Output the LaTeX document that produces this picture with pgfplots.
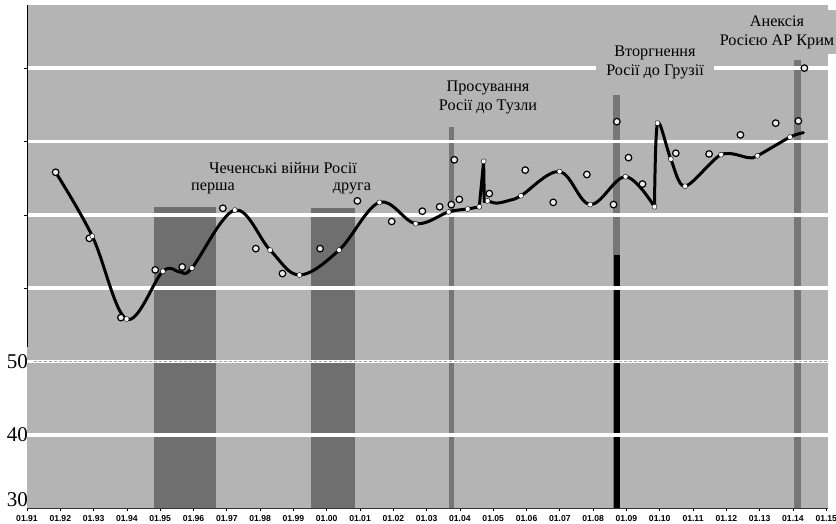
\documentclass[border=0pt]{standalone}
\usepackage{fontspec}
\setmainfont{Liberation Serif}
\setsansfont{Liberation Sans}
\usepackage{pgfplots}
\pgfplotsset{compat=1.18}
\definecolor{bggray}{RGB}{180,180,180}
\definecolor{bardark}{RGB}{111,111,111}
\definecolor{barthin}{RGB}{118,118,118}

\begin{document}
\begin{tikzpicture}
\begin{axis}[
    anchor=south west, at={(0pt,0pt)},
    scale only axis, width=801pt, height=503pt,
    xmin=1991, xmax=2015.05, ymin=30.05, ymax=98.6,
    clip=false,
    axis x line*=bottom, axis y line*=left,
    y axis line style={draw=none},
    x axis line style={draw=black!80, line width=0.8pt},
    axis background/.style={fill=bggray},
    xtick={1991,...,2015},
    xticklabels={01.91,01.92,01.93,01.94,01.95,01.96,01.97,01.98,01.99,01.00,01.01,01.02,01.03,01.04,01.05,01.06,01.07,01.08,01.09,01.10,01.11,01.12,01.13,01.14,01.15},
    xticklabel style={font=\sffamily\bfseries\fontsize{8.6}{9}\selectfont, inner sep=1.5pt, yshift=-2pt},
    ytick={60,70,80,90}, yticklabels={},
    tick align=outside, major tick length=3.5pt,
    tick style={black, line width=0.7pt},
]
% event bars
\addplot[fill=bardark, draw=none] coordinates {(1994.81,30.05) (1994.81,71.06) (1996.68,71.06) (1996.68,30.05)} -- cycle;
\addplot[fill=bardark, draw=none] coordinates {(1999.53,30.05) (1999.53,70.9) (2000.85,70.9) (2000.85,30.05)} -- cycle;
\addplot[fill=barthin, draw=none] coordinates {(2003.67,30.05) (2003.67,82.0) (2003.82,82.0) (2003.82,30.05)} -- cycle;
\addplot[fill=barthin, draw=none] coordinates {(2008.60,30.05) (2008.60,86.3) (2008.81,86.3) (2008.81,30.05)} -- cycle;
\addplot[fill=black, draw=none] coordinates {(2008.62,30.05) (2008.62,64.5) (2008.80,64.5) (2008.80,30.05)} -- cycle;
\addplot[fill=barthin, draw=none] coordinates {(2014.03,30.05) (2014.03,91.1) (2014.24,91.1) (2014.24,30.05)} -- cycle;

% grid lines
\draw[white, line width=3.5pt] (axis cs:1991,40) -- (axis cs:2015.05,40);
\draw[white, line width=3.5pt] (axis cs:1991,50) -- (axis cs:2015.05,50);
\draw[black!35, line width=0.9pt, dash pattern=on 3pt off 2pt] (axis cs:1991.2,50) -- (axis cs:2015.05,50);
\draw[white, line width=3.5pt] (axis cs:1991,60) -- (axis cs:2015.05,60);
\draw[white, line width=3.5pt] (axis cs:1991,70) -- (axis cs:2015.05,70);
\draw[white, line width=3.5pt] (axis cs:1991,80) -- (axis cs:2015.05,80);
\draw[white, line width=3.5pt] (axis cs:1991,90) -- (axis cs:2015.05,90);
\draw[black, line width=0.8pt] (axis cs:1991,52) -- (axis cs:1991,98.6);

% observed values
\addplot[only marks, mark=*, mark size=3.3pt, mark options={draw=black, fill=white!75!bggray, line width=1.2pt}] coordinates {
(1991.86,75.8) (1992.87,66.8) (1993.82,56.0) (1994.85,62.5) (1995.66,62.9)
(1996.88,70.9) (1997.87,65.4) (1998.67,62.0) (1999.80,65.4) (2000.92,71.9)
(2001.95,69.1) (2002.87,70.5) (2003.39,71.1) (2003.74,71.4) (2003.83,77.5)
(2003.98,72.1) (2004.88,72.9) (2005.96,76.1) (2006.80,71.7) (2007.81,75.5)
(2008.61,71.4) (2008.71,82.7) (2009.06,77.8) (2009.48,74.2) (2010.48,78.4)
(2011.48,78.3) (2012.42,80.9) (2013.48,82.5) (2014.16,82.8) (2014.34,90.0)
};

% smoothed curve
\addplot[black, line width=3pt, smooth, tension=0.6, line join=round, line cap=round] coordinates {
(1991.86,75.8) (1992.96,67.1) (1993.99,55.8) (1995.08,62.3) (1995.60,62.2)
(1995.95,62.75) (1997.24,70.65) (1998.30,65.2) (1999.18,61.8) (2000.37,65.2)
(2001.58,71.7) (2002.67,68.8) (2003.66,70.4) (2004.23,70.8) (2004.58,71.1)
};
\addplot[black, line width=3pt, line join=round, line cap=round] coordinates {
(2004.58,71.1) (2004.71,77.3) (2004.73,71.8)
};
\addplot[black, line width=3pt, smooth, tension=0.6, line join=round, line cap=round] coordinates {
(2004.73,71.8) (2004.83,71.9) (2005.10,71.6) (2005.50,72.0) (2005.83,72.6)
(2006.99,75.9) (2007.91,71.4) (2008.97,75.2) (2009.84,71.1)
};
\addplot[black, line width=3pt, smooth, tension=0.5, line join=round, line cap=round] coordinates {
(2009.84,71.1) (2009.93,82.5) (2010.33,77.6) (2010.76,73.9) (2011.84,78.2)
(2012.66,77.8) (2012.93,78.05) (2013.91,80.6) (2014.31,81.2)
};

% smoothed points
\addplot[only marks, mark=*, mark size=2.5pt, mark options={draw=none, fill=white}] coordinates {
(1992.96,67.1) (1993.99,55.8) (1995.08,62.3) (1995.95,62.75) (1997.24,70.65)
(1998.30,65.2) (1999.18,61.8) (2000.37,65.2) (2001.58,71.7) (2002.67,68.8)
(2003.66,70.4) (2004.23,70.8) (2004.58,71.1) (2004.71,77.3) (2004.83,71.9)
(2005.83,72.6) (2006.99,75.9) (2007.91,71.4) (2008.97,75.2) (2009.84,71.1)
(2009.93,82.5) (2010.33,77.6) (2010.76,73.9) (2011.84,78.2) (2012.93,78.05)
(2013.91,80.6)
};
\end{axis}

% y labels
\node[anchor=east, inner sep=0pt, font=\fontsize{21}{22}\selectfont] at (1pt,8pt) {30};
\node[anchor=east, inner sep=0pt, font=\fontsize{21}{22}\selectfont] at (1pt,73pt) {40};
\node[anchor=east, inner sep=0pt, font=\fontsize{21}{22}\selectfont] at (1pt,146pt) {50};

% annotations
\node[font=\fontsize{16.2}{18}\selectfont] at (256pt,340pt) {Чеченські війни Росії};
\node[font=\fontsize{16.2}{18}\selectfont] at (186pt,320pt) {перша};
\node[font=\fontsize{16.2}{18}\selectfont] at (325pt,320pt) {друга};
\node[font=\fontsize{16.2}{19}\selectfont, align=center] at (461pt,411pt) {Просування\\Росії до Тузли};
\node[font=\fontsize{16.2}{19}\selectfont, align=center, fill=bggray, inner xsep=10pt, inner ysep=5pt] at (628pt,446pt) {Вторгнення\\Росії до Грузії};
\node[font=\fontsize{16.2}{19}\selectfont, align=center, fill=bggray, inner xsep=14pt, inner ysep=5pt] at (750pt,476pt) {Анексія\\Росією АР Крим};

\pgfresetboundingbox
\path[use as bounding box] (-27pt,-16pt) rectangle (809pt,508pt);
\end{tikzpicture}
\end{document}
